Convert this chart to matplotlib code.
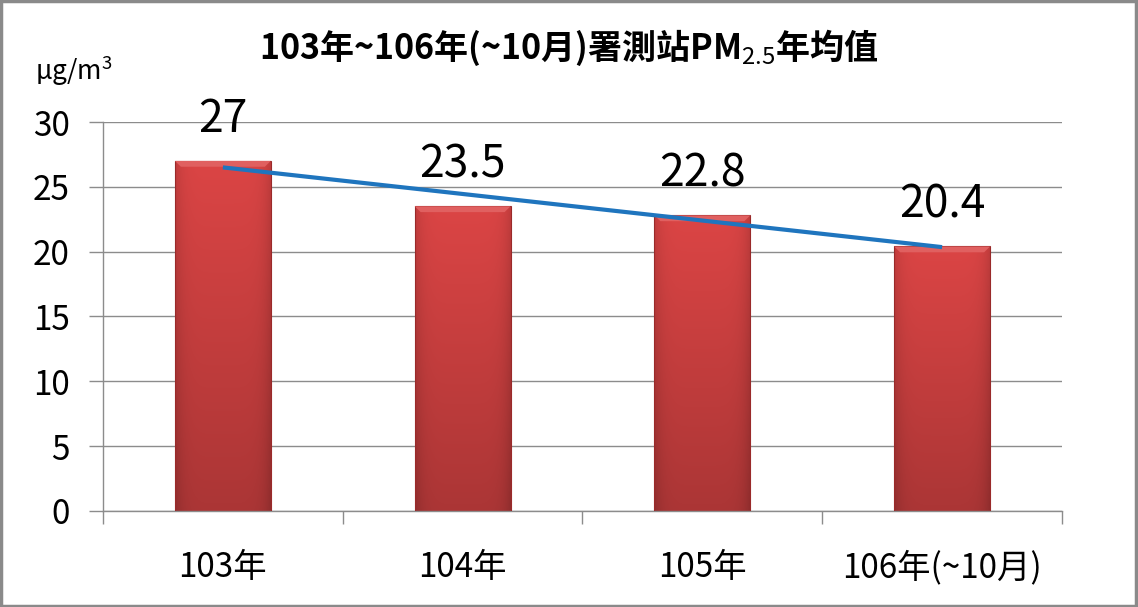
import numpy as np
import matplotlib
matplotlib.use('Agg')
import matplotlib.pyplot as plt
from matplotlib.patches import Rectangle, Polygon

plt.rcParams['font.family'] = ['Noto Sans CJK TC', 'DejaVu Sans']
plt.rcParams['mathtext.fontset'] = 'custom'
plt.rcParams['mathtext.rm'] = 'Noto Sans CJK TC'
plt.rcParams['mathtext.it'] = 'Noto Sans CJK TC'

# data
categories = ['103年', '104年', '105年', '106年(~10月)']
pm25 = [27, 23.5, 22.8, 20.4]
value_labels = ['27', '23.5', '22.8', '20.4']
yticks = [0, 5, 10, 15, 20, 25, 30]

x = np.arange(len(categories))
bar_w = 0.40

fig = plt.figure(figsize=(11.38, 6.07), dpi=100)
ax = fig.add_axes([0.0905, 0.1582, 0.8427, 0.6408])

# bars with a simple shaded look
grad_v = np.linspace(0, 1, 200)[:, None]
grad_h = np.linspace(-1, 1, 60)[None, :]
shade = 1.0 - 0.22 * grad_v - 0.12 * np.abs(grad_h) ** 6
top_col = np.array([0.86, 0.27, 0.27])
img = np.clip(shade[..., None] * top_col[None, None, :], 0, 1)

for xi, v in zip(x, pm25):
    left = xi - bar_w / 2
    rect = Rectangle((left, 0), bar_w, v, facecolor='none',
                     edgecolor='#9a2a2a', linewidth=0.8, zorder=3)
    ax.add_patch(rect)
    im = ax.imshow(img, extent=[left, left + bar_w, 0, v], origin='upper',
                   aspect='auto', zorder=2, interpolation='bilinear')
    im.set_clip_path(rect)
    # top bevel
    bev = 0.45
    ax.add_patch(Polygon([[left, v], [left + bar_w, v],
                          [left + bar_w - 0.025, v - bev], [left + 0.025, v - bev]],
                         closed=True, facecolor='#e06060', edgecolor='none',
                         zorder=3))
    ax.annotate(value_labels[xi], (xi, v), xytext=(0, 30), textcoords='offset points',
                ha='center', va='center', fontsize=32, fontweight='medium',
                color='black', zorder=5)

# linear trend line
coef = np.polyfit(x, pm25, 1)
ax.plot(x, np.polyval(coef, x), color='#1f75be', linewidth=3, zorder=4,
        solid_capstyle='butt')

ax.set_xlim(-0.5, len(categories) - 0.5)
ax.set_ylim(0, 30)
ax.set_yticks(yticks)
ax.set_yticklabels([str(t) for t in yticks], fontsize=24)
ax.yaxis.grid(True, color='#8c8c8c', linewidth=1.0)
ax.set_axisbelow(True)

ax.set_xticks(x)
ax.set_xticklabels(categories, fontsize=24)
ax.set_xticks(np.arange(-0.5, len(categories)), minor=True)
ax.tick_params(axis='x', which='major', length=0, pad=28)
ax.tick_params(axis='x', which='minor', length=9, color='#8c8c8c', width=1.0)
ax.tick_params(axis='y', length=10, color='#8c8c8c', width=1.0, pad=14)

for side in ['top', 'right']:
    ax.spines[side].set_visible(False)
for side in ['left', 'bottom']:
    ax.spines[side].set_color('#8c8c8c')
    ax.spines[side].set_linewidth(1.0)

fig.text(0.5, 0.921, '103年~106年(~10月)署測站PM$_{\\mathrm{2.5}}$年均值',
         ha='center', va='center', fontsize=24.5, fontweight='bold')
fig.text(0.031, 0.884, 'μg/m$^{\\mathrm{3}}$', ha='left', va='center', fontsize=19)

# outer frame
fig.patches.append(Rectangle((0.001, 0.002), 0.997, 0.996, transform=fig.transFigure,
                             fill=False, edgecolor='#8a8a8a', linewidth=2.5))

fig.savefig('out.png', dpi=100)
